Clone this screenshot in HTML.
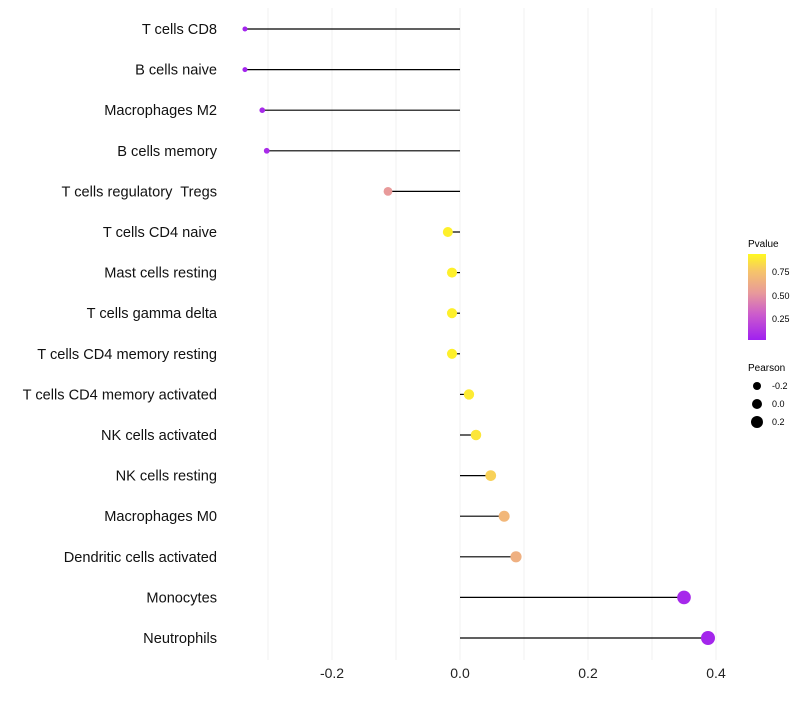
<!DOCTYPE html>
<html><head><meta charset="utf-8"><style>
body{margin:0;background:#fff;font-family:"Liberation Sans",sans-serif}
</style></head><body>
<svg id="chart" width="800" height="700" xmlns="http://www.w3.org/2000/svg">
<defs><linearGradient id="pg" x1="0" y1="1" x2="0" y2="0">
<stop offset="0" stop-color="#a020f0"/><stop offset="0.3" stop-color="#cc5ccc"/><stop offset="0.55" stop-color="#e89a9a"/><stop offset="0.8" stop-color="#f6c46a"/><stop offset="1" stop-color="#fff820"/></linearGradient></defs>
<g id="grid"></g><g id="marks"></g><g id="labels"></g>
<g font-size="9" fill="#000">
<text x="748" y="247" font-size="10">Pvalue</text>
<rect x="748" y="254" width="18" height="86" fill="url(#pg)"/>
<text x="772" y="275">0.75</text><text x="772" y="299">0.50</text><text x="772" y="322">0.25</text>
</g>
<g font-size="9" fill="#000">
<text x="748" y="371" font-size="10">Pearson</text>
<circle cx="757" cy="386" r="4"/><text x="772" y="389">-0.2</text>
<circle cx="757" cy="404" r="5"/><text x="772" y="407">0.0</text>
<circle cx="757" cy="422" r="6"/><text x="772" y="425">0.2</text>
</g>
</svg>
<script>
const categories=["T cells CD8","B cells naive","Macrophages M2","B cells memory","T cells regulatory  Tregs","T cells CD4 naive","Mast cells resting","T cells gamma delta","T cells CD4 memory resting","T cells CD4 memory activated","NK cells activated","NK cells resting","Macrophages M0","Dendritic cells activated","Monocytes","Neutrophils"];
const pearson=[-0.336,-0.336,-0.309,-0.302,-0.1125,-0.019,-0.0125,-0.0125,-0.0125,0.014,0.025,0.048,0.069,0.0875,0.35,0.3875];
const pvalue=[0.02,0.02,0.05,0.06,0.55,0.97,0.97,0.97,0.97,0.95,0.93,0.85,0.72,0.68,0.04,0.03];
const xTicks=[-0.2,0,0.2,0.4];
const xTickLabels=["-0.2","0.0","0.2","0.4"];
const minorTicks=[-0.3,-0.1,0.1,0.3];
const NS="http://www.w3.org/2000/svg";
const xs=v=>460+v*640;
const ys=i=>29+i*40.6;
function mk(t,a,p){const e=document.createElementNS(NS,t);for(const k in a)e.setAttribute(k,a[k]);p.appendChild(e);return e;}
function lerp(a,b,t){return a+(b-a)*t}
const stops=[[0,[160,32,240]],[0.3,[204,92,204]],[0.55,[232,154,154]],[0.8,[246,196,106]],[1,[255,248,32]]];
function col(p){for(let i=0;i<stops.length-1;i++){const[a,ca]=stops[i],[b,cb]=stops[i+1];if(p<=b){const t=(p-a)/(b-a);return`rgb(${ca.map((c,j)=>Math.round(lerp(c,cb[j],t))).join(',')})`;}}return'rgb(255,248,32)';}
const grid=document.getElementById('grid'),marks=document.getElementById('marks'),labels=document.getElementById('labels');
minorTicks.concat(xTicks).forEach(v=>{const l=mk('line',{x1:xs(v),x2:xs(v),y1:8,y2:660,stroke:'#f2f2f2','stroke-width':1},grid);

});
xTicks.forEach((v,i)=>{const t=mk('text',{x:xs(v),y:678,'text-anchor':'middle','font-size':14,fill:'#222'},labels);t.textContent=xTickLabels[i];

});
categories.forEach((c,i)=>{const y=ys(i);
const t=mk('text',{x:217,y:y+5,'text-anchor':'end','font-size':14.6,fill:'#111','xml:space':'preserve',style:'white-space:pre'},labels);t.textContent=c;


const l=mk('line',{x1:xs(0),x2:xs(pearson[i]),y1:y,y2:y,stroke:'#000','stroke-width':1.2},marks);


const r=Math.sqrt(6.25+(pearson[i]+0.336)*59);
const d=mk('circle',{cx:xs(pearson[i]),cy:y,r:r,fill:col(pvalue[i])},marks);

});
</script>
</body></html>
